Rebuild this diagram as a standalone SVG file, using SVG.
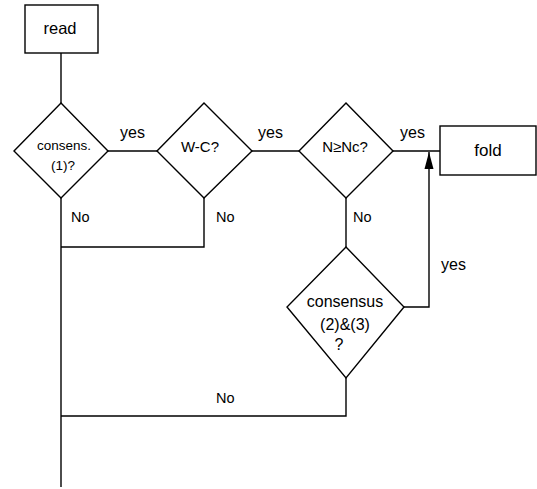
<svg xmlns="http://www.w3.org/2000/svg" width="537" height="489" viewBox="0 0 537 489">
<style>
.s{fill:#fff;stroke:#000;stroke-width:1.4}
.c{fill:none;stroke:#000;stroke-width:1.4}
text{font-family:"Liberation Sans",Arial,sans-serif;fill:#000}
.m{text-anchor:middle}
</style>
<defs>
<marker id="ah" viewBox="0 0 17 20" refX="17" refY="10" markerWidth="17" markerHeight="20" markerUnits="userSpaceOnUse" orient="auto">
<path d="M0,5.5 L17,10 L0,14.5 Z" fill="#000"/>
</marker>
</defs>
<rect width="537" height="489" fill="#fff"/>
<g id="connectors">
<path class="c" d="M61,53 V103"/>
<path class="c" d="M61,198 V487"/>
<path class="c" d="M108,151 H157"/>
<path class="c" d="M252,151 H299"/>
<path class="c" d="M393,151 H440"/>
<path class="c" d="M204,198 V247 H61"/>
<path class="c" d="M346,198 V247"/>
<path class="c" d="M404,307 H429 V152" marker-end="url(#ah)"/>
<path class="c" d="M346,378 V416 H61"/>
<text x="120" y="138" font-size="16">yes</text>
<text x="258" y="138" font-size="16">yes</text>
<text x="400" y="138" font-size="16">yes</text>
<text x="441" y="270" font-size="16">yes</text>
<text x="71" y="222" font-size="14.5">No</text>
<text x="216" y="222" font-size="14.5">No</text>
<text x="353" y="222" font-size="14.5">No</text>
<text x="216" y="403" font-size="14.5">No</text>
</g>
<g id="read">
<rect class="s" x="25" y="5" width="73" height="48"/>
<text class="m" x="60" y="34" font-size="16.5">read</text>
</g>
<g id="consens1">
<polygon class="s" points="61,103 108,151 61,198 14,151"/>
<text class="m" x="64" y="150" font-size="13.5">consens.</text>
<text class="m" x="63" y="170" font-size="13.5">(1)?</text>
</g>
<g id="wc">
<polygon class="s" points="204,103 252,151 204,198 157,151"/>
<text class="m" x="200" y="152" font-size="15">W-C?</text>
</g>
<g id="nnc">
<polygon class="s" points="346,103 393,151 346,198 299,151"/>
<text class="m" x="345" y="152" font-size="15">N≥Nc?</text>
</g>
<g id="fold">
<rect class="s" x="440" y="126" width="96" height="49"/>
<text class="m" x="488" y="156" font-size="17">fold</text>
</g>
<g id="consensus23">
<polygon class="s" points="346,247 404,307 346,378 287,307"/>
<text class="m" x="345" y="307" font-size="16">consensus</text>
<text class="m" x="345" y="330" font-size="16">(2)&amp;(3)</text>
<text class="m" x="339" y="350" font-size="16">?</text>
</g>
</svg>
